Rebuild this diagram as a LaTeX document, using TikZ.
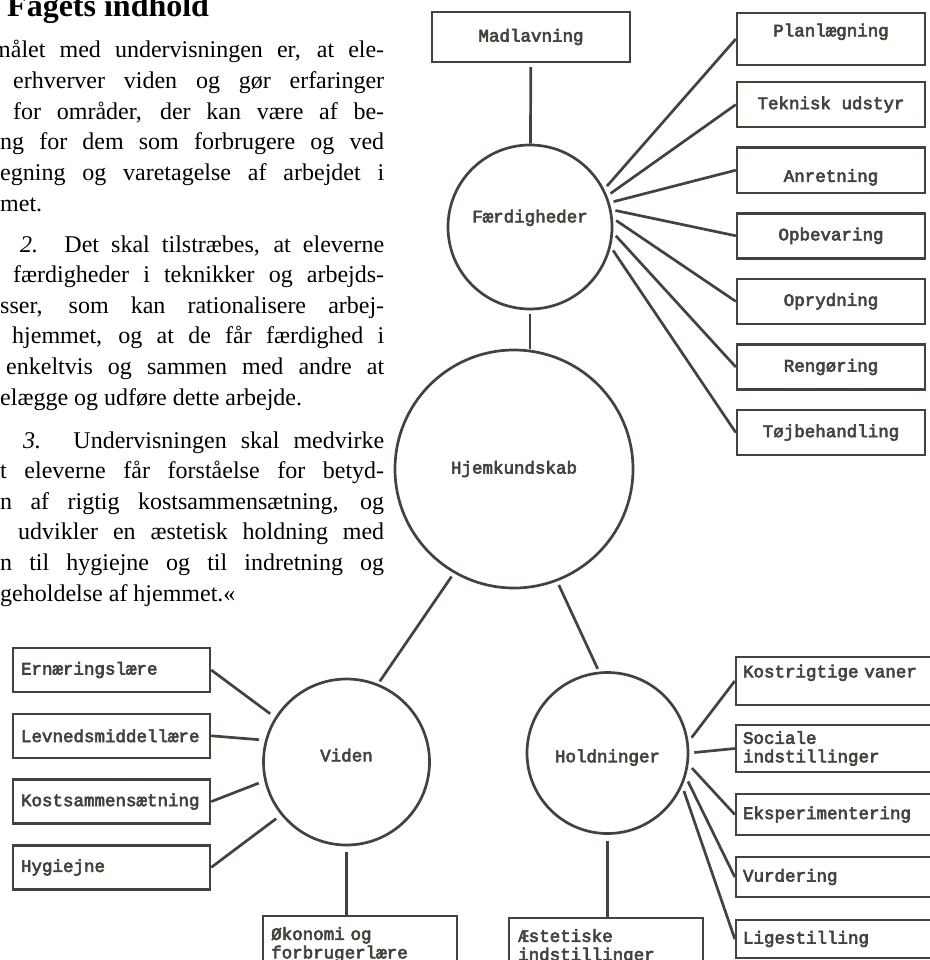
\documentclass[tikz,border=0pt]{standalone}
\usepackage{fontspec}
\setmainfont{Liberation Serif}
\newfontfamily\tw[FakeBold=3.5]{Liberation Mono}
\definecolor{ink}{RGB}{70,65,59}

\tikzset{
  link/.style={draw=ink, line width=2.7pt, shorten <=4pt},
  box/.style={draw=ink, line width=2.4pt, text=ink, inner sep=0pt,
    font=\tw\fontsize{17.5}{18.5}\selectfont, minimum height=45pt},
  rbox/.style={box, minimum width=188pt},
  lbox/.style={box, text width=181pt, inner xsep=8pt, align=left, minimum height=44pt},
  kbox/.style={box, text width=185pt, inner xsep=7pt, align=left},
  bbox/.style={draw=ink, line width=2.4pt, text=ink, font=\tw\fontsize{17.5}{18.5}\selectfont,
    anchor=north west, text width=178pt, inner xsep=8pt, inner ysep=11pt,
    align=left, text depth=50pt},
  ring/.style={circle, draw=ink, line width=2.7pt, text=ink, inner sep=0pt,
    font=\tw\fontsize{17.5}{19}\selectfont},
  ptxt/.style={anchor=base west, inner sep=0pt, font=\fontsize{24}{29}\selectfont},
}

\begin{document}
\begin{tikzpicture}[x=1pt,y=-1pt]
  \useasboundingbox (0,0) rectangle (929,960);

  % page text
  \node[anchor=base west, inner sep=0pt, font=\fontsize{32}{38}\selectfont\bfseries] (title) at (7,17) {Fagets indhold};
  \node[ptxt] (l1) at (-8,58) {\makebox[392pt][s]{målet med undervisningen er, at ele-}};
  \node[ptxt] (l2) at (13,88.6) {\makebox[371pt][s]{erhverver viden og gør erfaringer}};
  \node[ptxt] (l3) at (13,119.2) {\makebox[371pt][s]{for områder, der kan være af be-}};
  \node[ptxt] (l4) at (0,149.8) {\makebox[384pt][s]{ng for dem som forbrugere og ved}};
  \node[ptxt] (l5) at (0,180.4) {\makebox[384pt][s]{egning og varetagelse af arbejdet i}};
  \node[ptxt] (l6) at (0,211) {met.};
  \node[ptxt] (l7) at (20,252) {\makebox[364pt][s]{\textit{2.} Det skal tilstræbes, at eleverne}};
  \node[ptxt] (l8) at (13,282.6) {\makebox[371pt][s]{færdigheder i teknikker og arbejds-}};
  \node[ptxt] (l9) at (0,313.2) {\makebox[384pt][s]{sser, som kan rationalisere arbej-}};
  \node[ptxt] (l10) at (12,343.8) {\makebox[372pt][s]{hjemmet, og at de får færdighed i}};
  \node[ptxt] (l11) at (6,374.4) {\makebox[378pt][s]{enkeltvis og sammen med andre at}};
  \node[ptxt] (l12) at (0,405) {elægge og udføre dette arbejde.};
  \node[ptxt] (l13) at (23,448) {\makebox[361pt][s]{\textit{3.} Undervisningen skal medvirke}};
  \node[ptxt] (l14) at (0,478.6) {\makebox[384pt][s]{t eleverne får forståelse for betyd-}};
  \node[ptxt] (l15) at (0,509.2) {\makebox[384pt][s]{n af rigtig kostsammensætning, og}};
  \node[ptxt] (l16) at (18,539.8) {\makebox[366pt][s]{udvikler en æstetisk holdning med}};
  \node[ptxt] (l17) at (0,570.4) {\makebox[384pt][s]{n til hygiejne og til indretning og}};
  \node[ptxt] (l18) at (0,601) {geholdelse af hjemmet.«};

  % circles
  \node[ring, minimum size=164pt, text depth=22pt] (faerd) at (530,227) {Færdigheder};
  \node[ring, minimum size=238pt] (hjem) at (514,469) {Hjemkundskab};
  \node[ring, minimum size=166pt, text depth=14pt] (viden) at (346.5,762) {Viden};
  \node[ring, minimum size=161pt, text height=22pt] (hold) at (607.5,753) {Holdninger};

  % boxes
  \node[box, minimum width=198pt, minimum height=50pt] (mad) at (531,37) {Madlavning};

  \node[rbox, minimum height=52pt, text depth=18pt] (plan) at (831,39) {Planlægning};
  \node[rbox, node distance=65.6pt] (tek) [below of = plan] {Teknisk udstyr};
  \node[rbox, node distance=65.6pt, text height=27pt] (anr) [below of = tek] {Anretning};
  \node[rbox, node distance=65.6pt] (opb) [below of = anr] {Opbevaring};
  \node[rbox, node distance=65.6pt] (opr) [below of = opb] {Oprydning};
  \node[rbox, node distance=65.6pt] (reng) [below of = opr] {Rengøring};
  \node[rbox, node distance=65.6pt] (toej) [below of = reng] {Tøjbehandling};

  \node[lbox] (ern) at (111.5,670) {Ernæringslære};
  \node[lbox, node distance=65.8pt] (lev) [below of = ern] {Levnedsmiddellære};
  \node[lbox, node distance=65.8pt] (kost) [below of = lev] {Kostsammensætning};
  \node[lbox, node distance=65.8pt] (hyg) [below of = kost] {Hygiejne};

  \node[kbox, minimum height=48pt, text depth=20pt] (vaner) at (835.5,681) {Kostrigtige vaner};
  \node[kbox, minimum height=47pt] (soc) at (835.5,748.5) {Sociale\\indstillinger};
  \node[kbox, minimum height=41pt] (eksp) at (835.5,814.5) {Eksperimentering};
  \node[kbox, minimum height=40pt] (vurd) at (835.5,877) {Vurdering};
  \node[kbox, minimum height=38pt] (lige) at (835.5,939) {Ligestilling};

  \node[bbox] (oek) at (262,915) {Økonomi og\\forbrugerlære};
  \node[bbox, text width=176pt, inner xsep=9pt] (aest) at (508,917) {Æstetiske\\indstillinger};

  % connectors
  \draw[link] (mad) -- (faerd);
  \draw[link] (faerd.south) -- (faerd.south |- hjem.north);
  \foreach \a/\b in {27/plan, 22/tek, 17/anr, 12/opb, 6/opr, 356/reng, 346/toej}
    \draw[link] (faerd.\a) -- (\b.west);
  \draw[link, shorten >=3pt] (hjem.240) -- (viden.68);
  \draw[link, shorten >=3pt] (hjem.291) -- (hold.96);
  \foreach \a/\b in {148/ern, 165/lev, 193/kost, 219/hyg}
    \draw[link, shorten <=6pt] (viden.\a) -- (\b.east);
  \draw[link, shorten <=6pt] (viden.south) -- (viden.south |- oek.north);
  \draw[link, shorten <=6pt] (hold.south) -- (hold.south |- aest.north);
  \foreach \a/\b in {8/vaner, 0/soc, 352/eksp, 343/vurd, 336/lige}
    \draw[link, shorten <=5pt] (hold.\a) -- (\b.west);
\end{tikzpicture}
\end{document}
